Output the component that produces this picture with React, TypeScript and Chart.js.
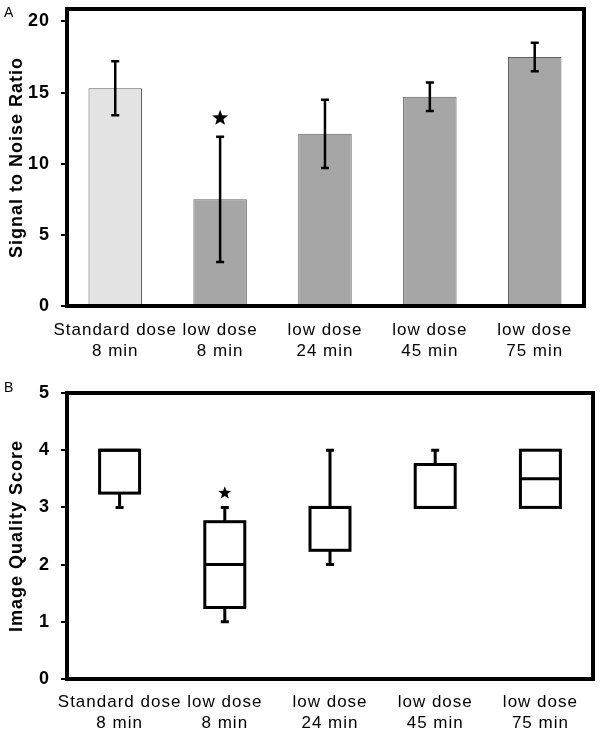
import React, { useEffect, useRef } from 'react';
import { Chart, registerables } from 'chart.js';

Chart.register(...registerables);

// ---------- data ----------
const categories = [
  ['Standard dose', '8 min'],
  ['low dose', '8 min'],
  ['low dose', '24 min'],
  ['low dose', '45 min'],
  ['low dose', '75 min'],
];

// Panel A: Signal to Noise Ratio (mean with error bars)
const snrMean = [15.3, 7.5, 12.1, 14.7, 17.5];
const snrErrHigh = [17.2, 11.9, 14.5, 15.7, 18.5];
const snrErrLow = [13.4, 3.1, 9.7, 13.7, 16.5];
const snrStar = [null, 13.2, null, null, null];
const snrTicks = [0, 5, 10, 15, 20];
const snrBarColors = ['#e3e3e3', '#a6a6a6', '#a6a6a6', '#a6a6a6', '#a6a6a6'];

// Panel B: Image Quality Score (box plots)
const iqMin = [3, 1, 2, 3, 3];
const iqQ1 = [3.25, 1.25, 2.25, 3, 3];
const iqMedian = [4, 2, 3, 3, 3.5];
const iqQ3 = [4, 2.75, 3, 3.75, 4];
const iqMax = [4, 3, 4, 4, 4];
const iqStar = [null, 3.25, null, null, null];
const iqTicks = [0, 1, 2, 3, 4, 5];

const FONT = "'Liberation Sans', Arial, Helvetica, sans-serif";

function drawStar(ctx: CanvasRenderingContext2D, cx: number, cy: number, R: number) {
  const r = R * 0.42;
  ctx.beginPath();
  for (let k = 0; k < 10; k++) {
    const rad = k % 2 === 0 ? R : r;
    const a = -Math.PI / 2 + (k * Math.PI) / 5;
    const px = cx + rad * Math.cos(a);
    const py = cy + rad * Math.sin(a);
    if (k === 0) ctx.moveTo(px, py);
    else ctx.lineTo(px, py);
  }
  ctx.closePath();
  ctx.fill();
}

const spacingPlugin = {
  id: 'letterSpacing',
  beforeUpdate(chart: any) {
    chart.ctx.letterSpacing = '1px';
  },
  beforeDraw(chart: any) {
    chart.ctx.letterSpacing = '1px';
  },
};

const framePlugin = {
  id: 'frame',
  afterDraw(chart: any) {
    const { ctx, chartArea } = chart;
    ctx.save();
    ctx.strokeStyle = '#000';
    ctx.lineWidth = 4;
    ctx.lineJoin = 'miter';
    ctx.strokeRect(chartArea.left, chartArea.top, chartArea.right - chartArea.left, chartArea.bottom - chartArea.top);
    ctx.restore();
  },
};

const errorBarPlugin = {
  id: 'errorBars',
  afterDatasetsDraw(chart: any) {
    const { ctx } = chart;
    const x = chart.scales.x;
    const y = chart.scales.y;
    ctx.save();
    ctx.strokeStyle = '#000';
    ctx.fillStyle = '#000';
    snrMean.forEach((_, i) => {
      const px = x.getPixelForValue(i);
      const yh = y.getPixelForValue(snrErrHigh[i]);
      const yl = y.getPixelForValue(snrErrLow[i]);
      ctx.lineWidth = 2.5;
      ctx.beginPath();
      ctx.moveTo(px, yh);
      ctx.lineTo(px, yl);
      ctx.stroke();
      ctx.lineWidth = 2.5;
      ctx.beginPath();
      ctx.moveTo(px - 4, yh);
      ctx.lineTo(px + 4, yh);
      ctx.moveTo(px - 4, yl);
      ctx.lineTo(px + 4, yl);
      ctx.stroke();
      const s = snrStar[i];
      if (s != null) drawStar(ctx, px, y.getPixelForValue(s), 8.3);
    });
    ctx.restore();
  },
};

const boxPlugin = {
  id: 'boxExtras',
  afterDatasetsDraw(chart: any) {
    const { ctx } = chart;
    const y = chart.scales.y;
    const meta = chart.getDatasetMeta(0);
    ctx.save();
    ctx.strokeStyle = '#000';
    ctx.fillStyle = '#000';
    ctx.lineWidth = 3;
    ctx.lineJoin = 'miter';
    iqMedian.forEach((m, i) => {
      const bar = meta.data[i];
      const px = bar.x;
      const half = bar.width / 2;
      const yQ1 = y.getPixelForValue(iqQ1[i]);
      const yQ3 = y.getPixelForValue(iqQ3[i]);
      // box outline (centered on the quartile values)
      ctx.strokeRect(px - half, yQ3, half * 2, yQ1 - yQ3);
      // median
      const yMed = y.getPixelForValue(m);
      ctx.beginPath();
      ctx.moveTo(px - half, yMed);
      ctx.lineTo(px + half, yMed);
      ctx.stroke();
      if (iqMax[i] > iqQ3[i]) {
        const y2 = y.getPixelForValue(iqMax[i]);
        ctx.beginPath();
        ctx.moveTo(px, yQ3);
        ctx.lineTo(px, y2);
        ctx.moveTo(px - 4, y2);
        ctx.lineTo(px + 4, y2);
        ctx.stroke();
      }
      if (iqMin[i] < iqQ1[i]) {
        const y2 = y.getPixelForValue(iqMin[i]);
        ctx.beginPath();
        ctx.moveTo(px, yQ1);
        ctx.lineTo(px, y2);
        ctx.moveTo(px - 4, y2);
        ctx.lineTo(px + 4, y2);
        ctx.stroke();
      }
      const s = iqStar[i];
      if (s != null) drawStar(ctx, px, y.getPixelForValue(s), 6.8);
    });
    ctx.restore();
  },
};

function buildOptions(cfg: any) {
  return {
    responsive: false,
    animation: false,
    devicePixelRatio: 1,
    layout: { padding: { top: cfg.padTop, right: cfg.padRight, left: 0, bottom: 0 } },
    plugins: { legend: { display: false }, tooltip: { enabled: false } },
    scales: {
      x: {
        type: 'linear',
        min: cfg.xMin,
        max: cfg.xMax,
        offset: false,
        afterBuildTicks: (s: any) => {
          s.ticks = categories.map((_, i) => ({ value: i }));
        },
        afterFit: (s: any) => {
          s.height = cfg.xHeight;
          s.paddingLeft = 0;
          s.paddingRight = 0;
        },
        grid: { display: false, drawTicks: false },
        border: { display: false },
        ticks: {
          callback: (v: any) => categories[v] ?? '',
          font: { family: FONT, size: 17, lineHeight: 21 / 17 },
          color: '#000',
          padding: cfg.xPad,
          maxRotation: 0,
          minRotation: 0,
          autoSkip: false,
        },
      },
      y: {
        type: 'linear',
        min: 0,
        max: cfg.yMax,
        afterBuildTicks: (s: any) => {
          s.ticks = cfg.ticks.map((v: number) => ({ value: v }));
        },
        afterFit: (s: any) => {
          s.width = 67;
          s.paddingTop = 0;
          s.paddingBottom = 0;
        },
        grid: { drawOnChartArea: false, drawTicks: true, tickLength: 6, color: '#000', lineWidth: 2 },
        border: { display: false },
        ticks: {
          font: { family: FONT, size: 18, weight: 'bold' },
          color: '#000',
          padding: 11,
        },
        title: {
          display: true,
          text: cfg.title,
          color: '#000',
          font: { family: FONT, size: 18, weight: 'bold' },
          padding: { top: 6, bottom: 0 },
        },
      },
    },
  };
}

export default function App() {
  const topRef = useRef<HTMLCanvasElement | null>(null);
  const botRef = useRef<HTMLCanvasElement | null>(null);

  useEffect(() => {
    const c1 = new Chart(topRef.current as HTMLCanvasElement, {
      type: 'bar',
      data: {
        datasets: [
          {
            data: snrMean.map((v, i) => ({ x: i, y: v })),
            backgroundColor: snrBarColors,
            borderColor: '#5e5e5e',
            borderWidth: 1,
            borderSkipped: false,
            barPercentage: 0.51,
            categoryPercentage: 1,
          },
        ],
      },
      options: buildOptions({
        padTop: 9,
        padRight: 16,
        xMin: -0.46,
        xMax: 4.47,
        xHeight: 62,
        xPad: 14,
        yMax: 20.87,
        ticks: snrTicks,
        title: 'Signal to Noise Ratio',
      }) as any,
      plugins: [spacingPlugin, errorBarPlugin, framePlugin],
    });

    const c2 = new Chart(botRef.current as HTMLCanvasElement, {
      type: 'bar',
      data: {
        datasets: [
          {
            data: iqQ1.map((q1, i) => ({ x: i, y: [q1, iqQ3[i]] })),
            backgroundColor: '#ffffff',
            borderWidth: 0,
            barPercentage: 0.38,
            categoryPercentage: 1,
          },
        ],
      },
      options: buildOptions({
        padTop: 25,
        padRight: 7,
        xMin: -0.5,
        xMax: 4.5,
        xHeight: 58,
        xPad: 13,
        yMax: 5,
        ticks: iqTicks,
        title: 'Image Quality Score',
      }) as any,
      plugins: [spacingPlugin, boxPlugin, framePlugin],
    });

    return () => {
      c1.destroy();
      c2.destroy();
    };
  }, []);

  const panelLabel: React.CSSProperties = {
    position: 'absolute',
    left: 4,
    font: `14px ${FONT}`,
    lineHeight: '16px',
    color: '#000',
  };

  return (
    <div style={{ position: 'absolute', left: 0, top: 0, width: 600, height: 737, background: '#fff' }}>
      <canvas ref={topRef} width={600} height={368} style={{ position: 'absolute', left: 0, top: 0 }} />
      <canvas ref={botRef} width={600} height={369} style={{ position: 'absolute', left: 0, top: 368 }} />
      <div style={{ ...panelLabel, top: 4 }}>A</div>
      <div style={{ ...panelLabel, top: 379 }}>B</div>
    </div>
  );
}
